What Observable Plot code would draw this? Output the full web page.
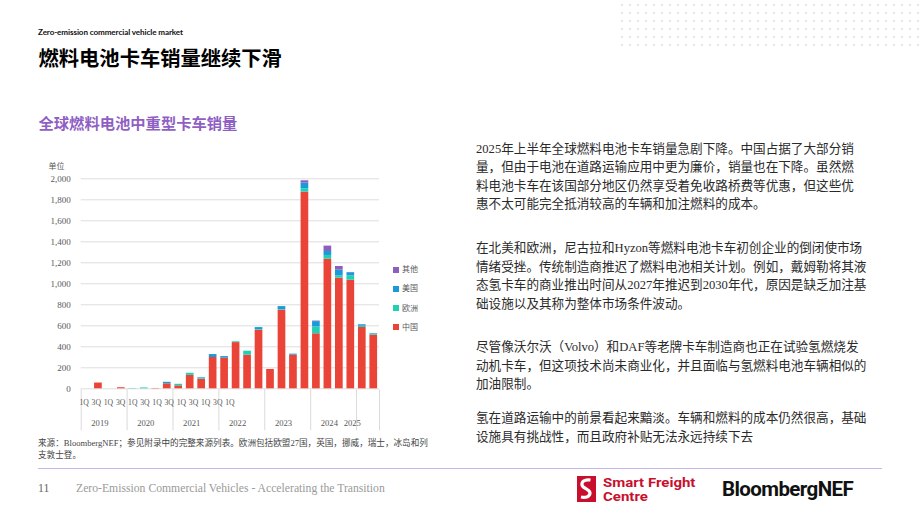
<!DOCTYPE html>
<html><head><meta charset="utf-8">
<script src="https://cdn.jsdelivr.net/npm/d3@7"></script>
<script src="https://cdn.jsdelivr.net/npm/@observablehq/plot@0.6"></script>
<style>
html,body{margin:0;padding:0;background:#fff;}
#page{position:relative;width:920px;height:518px;overflow:hidden;background:#fff;font-family:"Noto Sans CJK SC",sans-serif;}
.abs{position:absolute;white-space:nowrap;}
.kicker{left:38px;top:27px;font-family:Lato,"Noto Sans",sans-serif;font-weight:700;font-size:8.1px;line-height:10px;color:#111;letter-spacing:-0.1px;}
.title{left:38.5px;top:46px;font-weight:700;font-size:20.3px;line-height:22px;color:#000;}
.subtitle{left:38.5px;top:114px;font-weight:700;font-size:15.3px;line-height:17px;color:#8f5fc4;}
.para{left:476px;font-family:"Liberation Serif","Noto Sans CJK SC",serif;font-size:12.6px;line-height:18.5px;color:#2a2a2a;}
.caption{left:38px;top:438px;font-family:"Liberation Serif","Noto Sans CJK SC",serif;font-size:8.6px;line-height:11.5px;color:#444;}
.footer{top:482px;font-family:"Liberation Serif",serif;font-size:11.7px;line-height:14px;color:#9a9a9a;}
.legend{left:393px;font-size:8px;line-height:8px;color:#595959;}
.legend span.sw{display:inline-block;width:6px;height:6px;margin-right:3px;vertical-align:-0.5px;}
.sfc{left:603px;font-family:Roboto,sans-serif;font-weight:700;font-size:12.5px;line-height:14.6px;color:#c8102e;transform:scaleX(1.2);transform-origin:0 50%;}
</style></head><body>
<div id="page">
  <svg class="abs" style="left:0;top:0" width="920" height="60" id="dots"></svg>
  <div class="abs kicker">Zero-emission commercial vehicle market</div>
  <div class="abs title">燃料电池卡车销量继续下滑</div>
  <div class="abs subtitle">全球燃料电池中重型卡车销量</div>

  <div class="abs para" style="top:139.5px">
    <div>2025年上半年全球燃料电池卡车销量急剧下降。中国占据了大部分销</div>
    <div>量，但由于电池在道路运输应用中更为廉价，销量也在下降。虽然燃</div>
    <div>料电池卡车在该国部分地区仍然享受着免收路桥费等优惠，但这些优</div>
    <div>惠不太可能完全抵消较高的车辆和加注燃料的成本。</div>
  </div>
  <div class="abs para" style="top:239px">
    <div>在北美和欧洲，尼古拉和Hyzon等燃料电池卡车初创企业的倒闭使市场</div>
    <div>情绪受挫。传统制造商推迟了燃料电池相关计划。例如，戴姆勒将其液</div>
    <div>态氢卡车的商业推出时间从2027年推迟到2030年代，原因是缺乏加注基</div>
    <div>础设施以及其称为整体市场条件波动。</div>
  </div>
  <div class="abs para" style="top:338px">
    <div>尽管像沃尔沃（Volvo）和DAF等老牌卡车制造商也正在试验氢燃烧发</div>
    <div>动机卡车，但这项技术尚未商业化，并且面临与氢燃料电池车辆相似的</div>
    <div>加油限制。</div>
  </div>
  <div class="abs para" style="top:409px">
    <div>氢在道路运输中的前景看起来黯淡。车辆和燃料的成本仍然很高，基础</div>
    <div>设施具有挑战性，而且政府补贴无法永远持续下去</div>
  </div>

  <div class="abs caption">
    <div>来源：BloombergNEF；参见附录中的完整来源列表。欧洲包括欧盟27国，英国，挪威，瑞士，冰岛和列</div>
    <div>支敦士登。</div>
  </div>

  <div class="abs" style="left:38px;top:467.5px;width:844px;height:1.5px;background:#c9b6e8"></div>
  <div class="abs footer" style="left:38px;color:#666">11</div>
  <div class="abs footer" style="left:76px">Zero-Emission Commercial Vehicles - Accelerating the Transition</div>

  <svg class="abs" style="left:575px;top:474px" width="24" height="30">
    <rect x="2" y="2" width="19" height="26" fill="#c8102e"/>
    <path d="M15.5 6 C9 5 6.5 8 7 11 C7.5 14.5 15 15 15 19 C15 22.5 11 24 6 23" fill="none" stroke="#fff" stroke-width="3.2"/>
  </svg>
  <div class="abs sfc" style="top:475.5px">Smart Freight</div>
  <div class="abs sfc" style="top:490.1px">Centre</div>
  <div class="abs" style="left:722px;top:477px;font-family:Roboto,sans-serif;font-weight:700;font-size:20.5px;line-height:24px;color:#111;letter-spacing:-0.6px">BloombergNEF</div>

  <div class="abs legend" style="top:265px"><span class="sw" style="background:#8c5fbf"></span>其他</div>
  <div class="abs legend" style="top:284.3px"><span class="sw" style="background:#1b9ad8"></span>美国</div>
  <div class="abs legend" style="top:303.6px"><span class="sw" style="background:#1fd1b4"></span>欧洲</div>
  <div class="abs legend" style="top:322.9px"><span class="sw" style="background:#ea4337"></span>中国</div>
</div>
<script>
// ---- data ----
const quarters = ["2019Q1","2019Q2","2019Q3","2019Q4","2020Q1","2020Q2","2020Q3","2020Q4",
  "2021Q1","2021Q2","2021Q3","2021Q4","2022Q1","2022Q2","2022Q3","2022Q4",
  "2023Q1","2023Q2","2023Q3","2023Q4","2024Q1","2024Q2","2024Q3","2024Q4",
  "2025Q1","2025Q2"];
const china  = [0,55,0,10, 0,0,3,47, 28,128,92,298, 292,440,320,558, 184,748,320,1873, 524,1235,1054,1035, 584,511];
const europe = [0,0,0,0, 3,8,0,0, 15,20,10,0, 0,8,38,5, 0,5,0,32, 66,35,22,41, 12,8];
const us     = [0,0,0,0, 0,0,0,15, 0,0,5,28, 15,0,0,20, 0,30,10,54, 50,38,54,29, 14,6];
const other  = [0,0,0,0, 0,0,0,0, 0,0,0,0, 0,0,0,0, 0,0,0,22, 5,51,35,3, 0,0];
const seriesNames = ["中国","欧洲","美国","其他"];
const seriesColors = ["#ea4337","#1fd1b4","#1b9ad8","#8c5fbf"];
const yTicks = [0,200,400,600,800,1000,1200,1400,1600,1800,2000];
const quarterTickLabels = ["1Q","3Q","1Q","3Q","1Q","3Q","1Q","3Q","1Q","3Q","1Q","3Q","1Q"];
const yearLabels = ["2019","2020","2021","2022","2023","2024","2025"];
const yearLabelAt = ["2019Q2","2020Q2","2021Q2","2022Q2","2023Q2","2024Q2","2024Q4"];
const yearStarts = ["2019Q1","2020Q1","2021Q1","2022Q1","2023Q1","2024Q1","2025Q1"];
const lastQuarter = ["2025Q2"];
const unitLabel = ["单位"];

const seriesValues = [china, europe, us, other];
const rows = quarters.flatMap((q, i) => seriesNames.map((s, k) => ({quarter: q, series: s, value: seriesValues[k][i]})));

// ---- chart ----
const W = 440, H = 290, ML = 50.7, MR = 91, MT = 28.3, MB = 51.7;
const step = (W - ML - MR) / quarters.length;
const labelStep = 12.15; // the reference packs its quarter labels side by side, not under their bars
const serif = "'Liberation Serif','Noto Sans CJK SC',serif";

const quarterLabelMarks = quarterTickLabels.map((t, i) =>
  Plot.text([t], {x: () => quarters[i], text: d => d, frameAnchor: "bottom", dy: 15.7,
    dx: -2.8 + i * (labelStep - step), fontSize: 7.7, fill: "#595959"}));

const chart = Plot.plot({
  width: W, height: H,
  marginLeft: ML, marginRight: MR, marginTop: MT, marginBottom: MB,
  style: {fontFamily: serif, fontSize: "9px", color: "#595959", background: "transparent", overflow: "visible"},
  x: {type: "band", domain: quarters, padding: 0, round: false, axis: null},
  y: {domain: [0, 2000], ticks: yTicks, tickSize: 0, tickPadding: 10.5, tickFormat: d3.format(","), label: null},
  color: {domain: seriesNames, range: seriesColors},
  marks: [
    Plot.ruleY(yTicks, {y: d => d, stroke: "#dddddd", strokeWidth: 1}),
    Plot.barY(rows, {x: "quarter", y: "value", fill: "series", insetLeft: 1.9, insetRight: 1.9}),
    Plot.ruleX(yearStarts, {x: d => d, y1: 0, y2: 0, dx: -step / 2, insetTop: 1, insetBottom: -42, stroke: "#dadada"}),
    Plot.ruleX(lastQuarter, {x: d => d, y1: 0, y2: 0, dx: step / 2, insetTop: 1, insetBottom: -42, stroke: "#dadada"}),
    ...quarterLabelMarks,
    Plot.text(yearLabels, {x: (d, i) => yearLabelAt[i], text: d => d, frameAnchor: "bottom", dy: 37, dx: 1.5, fontSize: 8.6, fill: "#595959"}),
    Plot.text(unitLabel, {text: d => d, frameAnchor: "top-left", textAnchor: "start", dx: -32.7, dy: -15.5, fontSize: 8, fill: "#595959"})
  ]
});
chart.style.position = "absolute";
chart.style.left = "30px";
chart.style.top = "150px";
document.getElementById("page").appendChild(chart);

// ---- decorative dot grid (top right) ----
const dots = document.getElementById("dots");
let s = "";
for (let yy = 5; yy <= 52; yy += 8) {
  for (let xx = 622; xx <= 918; xx += 8) {
    s += `<circle cx="${xx}" cy="${yy}" r="0.8" fill="#c4c4c4"/>`;
  }
}
dots.innerHTML = s;
</script>
</body></html>
